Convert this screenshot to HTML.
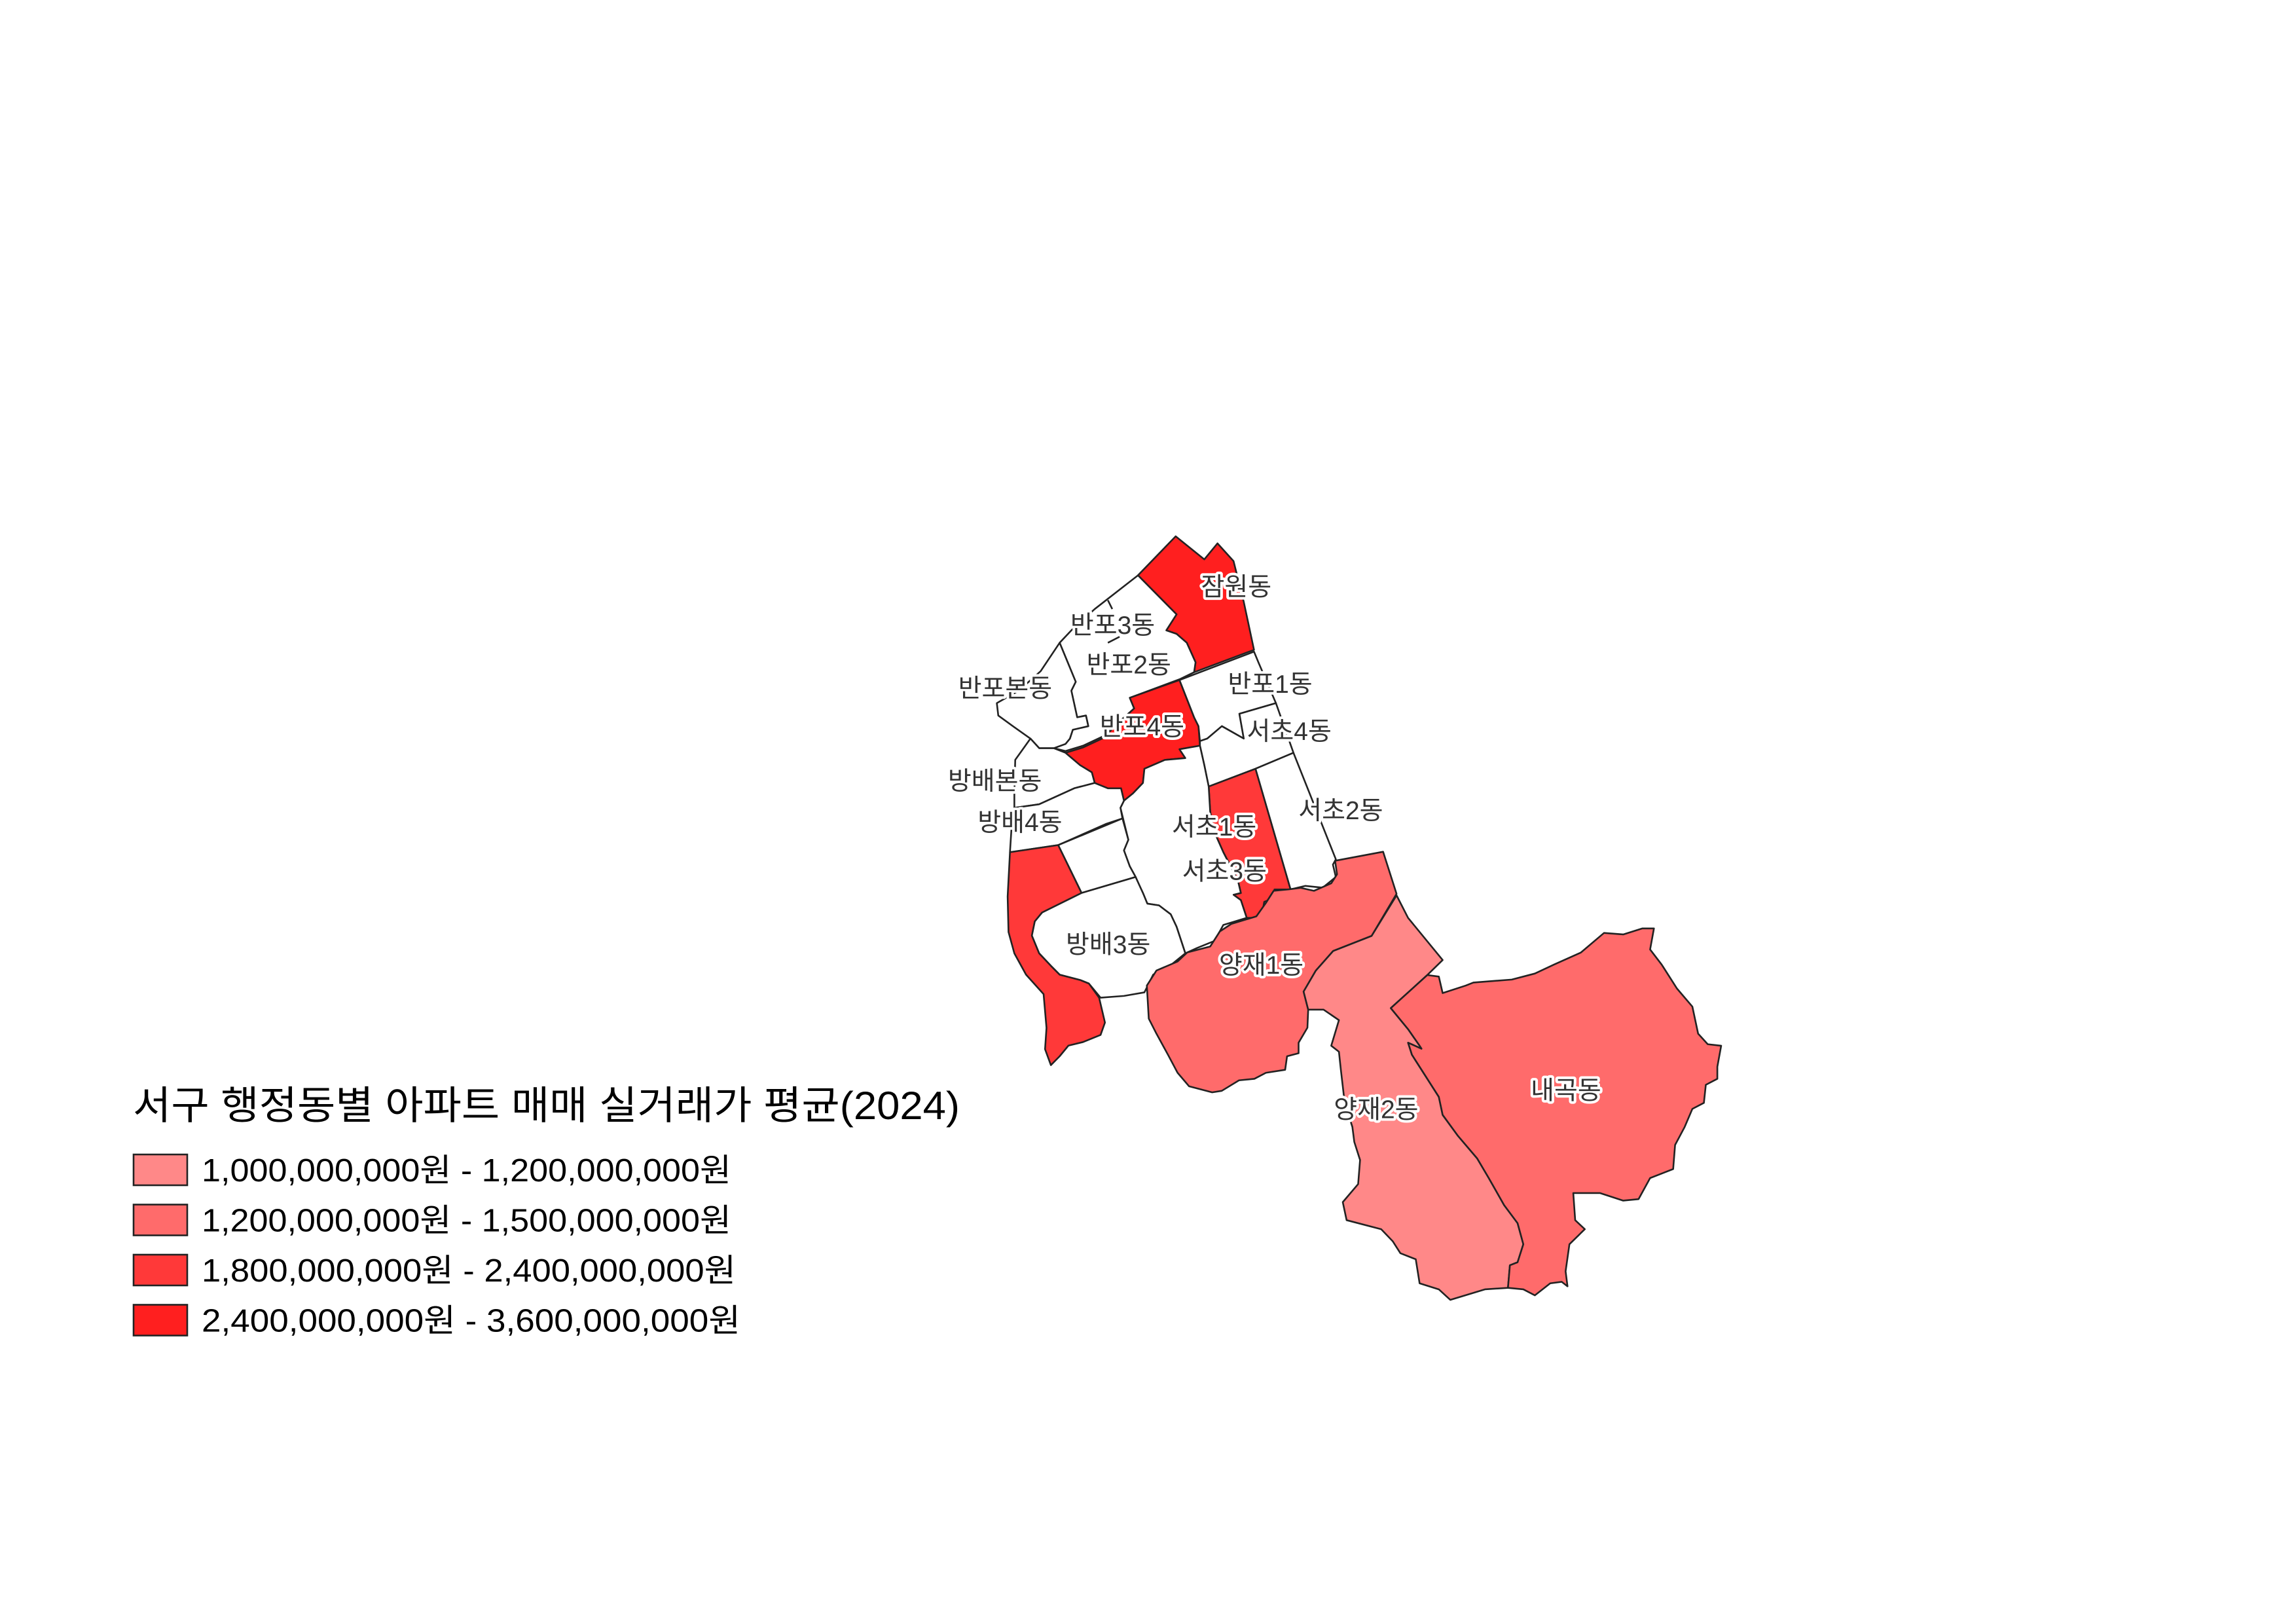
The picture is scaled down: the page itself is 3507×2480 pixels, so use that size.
<!DOCTYPE html>
<html><head><meta charset="utf-8">
<style>
html,body{margin:0;padding:0;background:#fff;}
svg{display:block;}
.lbl{font-family:"Liberation Sans","Noto Sans CJK KR",sans-serif;font-size:39px;fill:#333;stroke:#fff;stroke-width:8px;paint-order:stroke;stroke-linejoin:round;text-anchor:middle;dominant-baseline:central;}
.t{font-family:"Liberation Sans","Noto Sans CJK KR",sans-serif;fill:#000;}
</style></head>
<body>
<svg id="map" width="3507" height="2480" viewBox="0 0 3507 2480" xmlns="http://www.w3.org/2000/svg">
<rect width="3507" height="2480" fill="#fff"/>
<g id="g1" transform="translate(1440,800) scale(0.4464,0.542)"></g>
<g id="g2" transform="translate(1740,1280) scale(0.5868,0.4593)"></g>
<g id="labels"></g>
<text class="t" x="203" y="1709" font-size="60" textLength="1263" lengthAdjust="spacingAndGlyphs">서구 행정동별 아파트 매매 실거래가 평균(2024)</text>
<g id="legend"></g>
</svg>
<script>
// data
const districts = ["잠원동","반포3동","반포본동","반포4동","반포1동","서초4동","서초2동","서초3동","서초1동","방배본동","방배4동","방배2동","방배1동","방배3동","양재1동","양재2동","내곡동"];
const prices = [2800000000,null,null,3000000000,null,null,null,2000000000,null,null,null,null,2000000000,null,1300000000,1100000000,1350000000];
const binLow = [1000000000,1200000000,1800000000,2400000000];
const binHigh = [1200000000,1500000000,2400000000,3600000000];
const binColors = ["#ff8888","#ff6b6b","#ff3939","#ff1f1f"];
const labelNames = ["잠원동","반포3동","반포2동","반포본동","반포1동","반포4동","서초4동","방배본동","방배4동","서초2동","서초1동","서초3동","방배3동","양재1동","양재2동","내곡동"];

// geometry (shape outlines, local coordinates)
const geom = {
"잠원동":["g1","M668,145 L797,35 L895,100 L940,55 L995,105 L1030,220 L1065,355 L860,418 L865,390 L835,335 L800,310 L765,300 L800,255 Z"],
"반포3동":["g1","M400,335 L440,300 L520,240 L668,145 L800,255 L765,300 L800,310 L835,335 L865,390 L860,418 L810,438 L640,490 L655,520 L545,600 L480,625 L420,640 L380,632 L420,620 L435,605 L445,580 L498,570 L490,540 L460,545 L440,470 L455,445 Z"],
"반포본동":["g1","M400,335 L455,445 L440,470 L460,545 L490,540 L498,570 L445,580 L435,605 L420,620 L380,632 L330,632 L300,605 L240,570 L190,540 L185,505 L260,470 L335,415 Z"],
"반포4동":["g1","M640,490 L810,440 L860,545 L875,570 L880,625 L810,635 L830,660 L760,665 L690,690 L685,730 L650,760 L620,780 L610,745 L565,745 L520,730 L510,700 L470,680 L420,645 L480,630 L545,605 L655,520 Z"],
"반포1동":["g1","M810,440 L1065,360 L1080,390 L1140,505 L1015,535 L1030,605 L955,570 L905,605 L880,612 L875,570 L860,545 Z"],
"서초4동":["g1","M880,612 L905,605 L955,570 L1030,605 L1015,535 L1140,505 L1200,645 L1070,690 L910,740 L895,680 L880,625 Z"],
"서초2동":["g1","M1070,690 L1200,645 L1345,945 L1335,960 L1345,995 L1300,1025 L1240,1020 L1215,1025 L1190,1030 Z"],
"서초3동":["g1","M910,740 L1070,690 L1190,1030 L1135,1030 L1130,1055 L1100,1065 L1090,1110 L1040,1110 L1020,1060 L995,1045 L1020,1040 L1010,1005 L960,925 L925,860 L915,810 Z"],
"서초1동":["g1","M810,635 L880,625 L895,680 L910,740 L915,810 L925,860 L960,925 L1010,1005 L1020,1040 L995,1045 L1020,1060 L1040,1110 L960,1130 L930,1175 L870,1195 L830,1210 L800,1135 L780,1100 L740,1075 L700,1070 L685,1040 L670,1015 L660,995 L640,965 L620,920 L635,890 L620,840 L608,800 L620,780 L650,760 L685,730 L690,690 L760,665 L830,660 Z"],
"방배본동":["g1","M300,605 L330,632 L380,632 L420,645 L470,680 L510,700 L520,730 L450,745 L330,790 L245,800 L245,760 L248,665 Z"],
"방배4동":["g1","M245,800 L330,790 L450,745 L520,730 L565,745 L610,745 L620,780 L608,800 L615,830 L560,845 L395,905 L230,925 L235,860 Z"],
"방배2동":["g1","M395,905 L615,830 L635,890 L620,920 L640,965 L660,995 L475,1040 Z"],
"방배1동":["g1","M230,925 L395,905 L475,1040 L340,1095 L315,1120 L305,1160 L330,1210 L370,1245 L400,1270 L470,1285 L500,1295 L535,1335 L545,1370 L555,1405 L540,1440 L480,1460 L430,1470 L400,1500 L370,1525 L350,1480 L355,1420 L345,1325 L285,1270 L245,1210 L225,1150 L222,1050 Z"],
"방배3동":["g1","M475,1040 L660,995 L685,1040 L700,1070 L740,1075 L780,1100 L800,1135 L830,1210 L770,1250 L720,1270 L690,1320 L620,1330 L540,1335 L500,1295 L470,1285 L400,1270 L370,1245 L330,1210 L305,1160 L315,1120 L340,1095 Z"],
"양재1동":["g2","M510,75 L635,45 L670,185 L605,325 L505,375 L460,440 L428,510 L440,570 L438,630 L415,680 L415,715 L385,725 L380,770 L330,780 L300,800 L260,805 L215,840 L190,845 L130,825 L100,780 L75,720 L45,650 L25,600 L20,490 L45,440 L100,410 L125,380 L185,360 L210,310 L240,285 L305,260 L330,215 L350,175 L390,170 L420,165 L455,175 L500,150 L515,120 Z"],
"양재2동":["g2","M670,190 L700,265 L790,405 L750,455 L655,565 L700,635 L730,690 L735,700 L700,680 L710,720 L740,780 L780,860 L790,920 L830,990 L880,1065 L910,1130 L950,1220 L985,1280 L1000,1350 L985,1410 L965,1420 L960,1495 L900,1500 L810,1535 L780,1500 L730,1480 L720,1400 L680,1380 L660,1340 L630,1300 L540,1270 L530,1210 L570,1150 L575,1070 L560,1010 L555,960 L535,880 L525,770 L520,710 L500,690 L520,605 L480,570 L440,570 L428,510 L460,440 L505,375 L605,325 Z"],
"내곡동":["g2","M655,565 L750,455 L780,460 L790,515 L850,490 L870,480 L970,470 L1030,450 L1080,420 L1150,380 L1210,315 L1260,320 L1310,300 L1340,300 L1330,370 L1360,420 L1400,500 L1440,560 L1455,650 L1480,685 L1515,690 L1505,760 L1505,800 L1475,820 L1470,880 L1440,900 L1420,960 L1395,1020 L1390,1100 L1330,1130 L1300,1200 L1260,1205 L1200,1180 L1130,1180 L1135,1270 L1160,1300 L1120,1350 L1110,1440 L1115,1490 L1100,1475 L1070,1480 L1030,1520 L1000,1500 L960,1495 L965,1420 L985,1410 L1000,1350 L985,1280 L950,1220 L910,1130 L880,1065 L830,990 L790,920 L780,860 L740,780 L710,720 L700,680 L735,700 L730,690 L700,635 Z"]
};
const labelPos = {"잠원동":[840,399],"반포3동":[756,425],"반포2동":[767,452],"반포본동":[683,468],"반포1동":[863,465],"반포4동":[776,494],"서초4동":[876,497],"방배본동":[676,531],"방배4동":[693,559],"서초2동":[911,551],"서초1동":[825,562],"서초3동":[832,592],"방배3동":[753,642],"양재1동":[857,656],"양재2동":[935,754],"내곡동":[1064,741]};

const NS="http://www.w3.org/2000/svg";
function colorFor(v){
  if(v==null) return "#ffffff";
  for(let i=0;i<binLow.length;i++){ if(v>=binLow[i] && v<=binHigh[i]) return binColors[i]; }
  return v<binLow[0]?binColors[0]:binColors[binColors.length-1];
}
districts.forEach((d,i)=>{
  const g=geom[d]; if(!g) return;
  const p=document.createElementNS(NS,"path");
  p.setAttribute("d",g[1]);
  p.setAttribute("fill",colorFor(prices[i]));
  p.setAttribute("stroke","#222");
  p.setAttribute("stroke-width","2.6");
  p.setAttribute("stroke-linejoin","round");
  p.setAttribute("vector-effect","non-scaling-stroke");
  
  
  document.getElementById(g[0]).appendChild(p);
});
const ln=document.createElementNS(NS,"path");
ln.setAttribute("d","M565,335 L605,318 M565,215 L580,240");
ln.setAttribute("stroke","#222");ln.setAttribute("stroke-width","2.6");ln.setAttribute("fill","none");
ln.setAttribute("vector-effect","non-scaling-stroke");


document.getElementById("g1").appendChild(ln);

const S=2.248;
const lg=document.getElementById("labels");
labelNames.forEach(n=>{
  const t=document.createElementNS(NS,"text");
  t.setAttribute("class","lbl");
  t.setAttribute("x",(labelPos[n][0]*S).toFixed(1));
  t.setAttribute("y",(labelPos[n][1]*S).toFixed(1));
  t.textContent=n;
  
  
  lg.appendChild(t);
});
const fmt=v=>v.toLocaleString("en-US")+"원";
const legendWidths=[809,809,816,823];
const leg=document.getElementById("legend");
binLow.forEach((lo,i)=>{
  const y=1763+i*76.5;
  const r=document.createElementNS(NS,"rect");
  r.setAttribute("x",204);r.setAttribute("y",y);r.setAttribute("width",82);r.setAttribute("height",47);
  r.setAttribute("fill",binColors[i]);r.setAttribute("stroke","#222");r.setAttribute("stroke-width","2.6");
  
  
  leg.appendChild(r);
  const t=document.createElementNS(NS,"text");
  t.setAttribute("class","t");t.setAttribute("x",308);t.setAttribute("y",y+41);t.setAttribute("font-size","49");
  t.setAttribute("textLength",legendWidths[i]);t.setAttribute("lengthAdjust","spacingAndGlyphs");
  t.textContent=fmt(lo)+" - "+fmt(binHigh[i]);
  
  
  leg.appendChild(t);
});
</script>
</body></html>
